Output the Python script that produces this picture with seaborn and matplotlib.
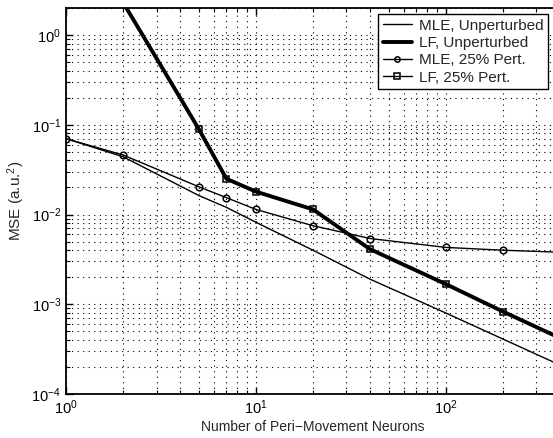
import matplotlib
matplotlib.use("Agg")
import matplotlib.pyplot as plt
import seaborn as sns
import numpy as np
from matplotlib.ticker import LogLocator, NullFormatter

sns.set_style("ticks")
plt.rcParams['font.family'] = ['Liberation Sans', 'DejaVu Sans']
plt.rcParams['mathtext.fontset'] = 'custom'
plt.rcParams['mathtext.rm'] = 'Liberation Sans'
plt.rcParams['mathtext.it'] = 'Liberation Sans'

neurons = [1, 2, 5, 7, 10, 20, 40, 100, 200, 400]
mle_unpert = [0.070, 0.044, 0.0163, 0.012, 0.0082, 0.0040, 0.0019, 0.00080, 0.00041, 0.00021]
lf_unpert = [20.0, 2.3, 0.090, 0.025, 0.018, 0.0114, 0.0041, 0.00168, 0.00083, 0.00042]
mle_pert = [0.070, 0.046, 0.0204, 0.0154, 0.0114, 0.0075, 0.0054, 0.0043, 0.0040, 0.0038]
lf_pert = [20.0, 2.3, 0.090, 0.025, 0.018, 0.0114, 0.0041, 0.00168, 0.00083, 0.00042]

labels = ["MLE, Unperturbed", "LF, Unperturbed", "MLE, 25% Pert.", "LF, 25% Pert."]

fig = plt.figure(figsize=(5.53, 4.38), dpi=100)
ax = fig.add_axes([66/553, 1-394/438, 494/553, 386/438])

sns.lineplot(x=neurons, y=mle_unpert, ax=ax, color='black', lw=1.0, label=labels[0])
sns.lineplot(x=neurons, y=lf_unpert, ax=ax, color='black', lw=2.8, label=labels[1])
sns.lineplot(x=neurons, y=mle_pert, ax=ax, color='black', lw=1.0, marker='o',
             markersize=4.8, markerfacecolor='none', markeredgecolor='black',
             markeredgewidth=1.1, label=labels[2])
sns.lineplot(x=neurons, y=lf_pert, ax=ax, color='black', lw=1.0, marker='s',
             markersize=4.8, markerfacecolor='none', markeredgecolor='black',
             markeredgewidth=1.1, label=labels[3])

ax.set_xscale('log')
ax.set_yscale('log')
ax.set_xlim(1, 400)
ax.set_ylim(1e-4, 2)

ax.xaxis.set_major_locator(LogLocator(base=10, numticks=10))
ax.xaxis.set_minor_locator(LogLocator(base=10, subs=np.arange(2, 10), numticks=20))
ax.yaxis.set_major_locator(LogLocator(base=10, numticks=10))
ax.yaxis.set_minor_locator(LogLocator(base=10, subs=np.arange(2, 10), numticks=20))
ax.xaxis.set_minor_formatter(NullFormatter())
ax.yaxis.set_minor_formatter(NullFormatter())

ax.grid(True, which='major', color='black', linestyle=(0, (1, 4)), linewidth=0.8)
ax.grid(True, which='minor', color='black', linestyle=(0, (1, 4)), linewidth=0.8)

ax.tick_params(which='both', direction='in', top=True, right=True, labelsize=10.5, colors='black')
ax.tick_params(which='major', length=5, width=1)
ax.tick_params(which='minor', length=3, width=0.8)
for s in ax.spines.values():
    s.set_color('black')
    s.set_linewidth(1.3)

ax.set_xlabel("Number of Peri\u2212Movement Neurons", fontsize=10, labelpad=2)
ax.set_ylabel("MSE (a.u.$^2$)", fontsize=11, labelpad=3)

leg = ax.legend(loc='upper right', bbox_to_anchor=(548/553, 1-14/438),
                bbox_transform=fig.transFigure, fancybox=False, framealpha=1,
                edgecolor='black', fontsize=11, handlelength=1.9,
                handletextpad=0.45, borderpad=0.3, borderaxespad=0,
                labelspacing=0.22, markerscale=0.8)
leg.get_frame().set_linewidth(1.0)

fig.savefig("out.png", dpi=100)
